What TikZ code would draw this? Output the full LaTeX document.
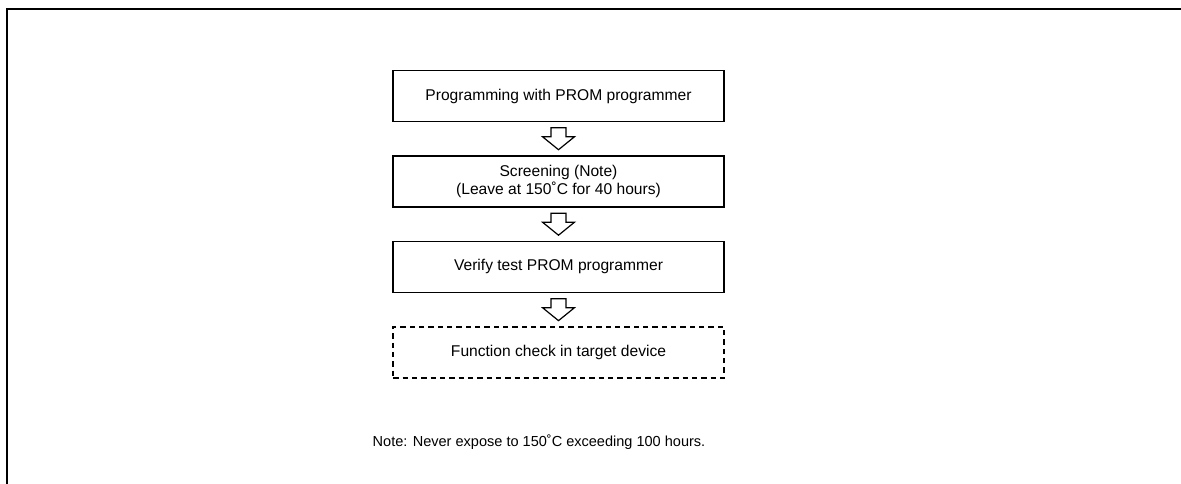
\documentclass[tikz,border=0pt]{standalone}
\usepackage{fontspec}
\setmainfont{Liberation Sans}
\usetikzlibrary{calc,positioning}
\tikzset{
  stepbox/.style={
    draw=black, line width=1.1pt, fill=white, inner sep=0pt,
    minimum width=248pt, minimum height=38.25pt, align=center,
    font=\fontsize{11.7pt}{13.6pt}\selectfont
  },
  checkbox/.style={stepbox, dash pattern=on 4pt off 3pt},
  hollowflow/.style={draw=black, line width=0.9pt, fill=white, line join=miter},
  notetext/.style={font=\fontsize{10.9pt}{13pt}\selectfont, inner sep=0pt},
  frameline/.style={line width=1.5pt, draw=black}
}
% hollow down arrow between two stacked boxes
\newcommand{\downflow}[2]{%
  \coordinate (#1-#2) at ($(#1.south)!0.5!(#2.north)$);
  \draw[hollowflow] ($(#1-#2)+(-7.5,11)$) -- ($(#1-#2)+(7.5,11)$)
    -- ($(#1-#2)+(7.5,2)$) -- ($(#1-#2)+(16,2)$) -- ($(#1-#2)+(0,-11)$)
    -- ($(#1-#2)+(-16,2)$) -- ($(#1-#2)+(-7.5,2)$) -- cycle;
}
\begin{document}
\begin{tikzpicture}[x=0.75pt,y=0.75pt,node distance=24.75pt]
  \useasboundingbox (0,0) rectangle (1181,484);
  \begin{scope}
    \clip (0,0) rectangle (1181,484);
    \draw[frameline] (6.5,-20) -- (6.5,475) -- (1200,475);
  \end{scope}
  \node[stepbox] (prog) at (558.5,388) {Programming with PROM programmer};
  \node[stepbox,below=of prog] (screen) {Screening (Note)\\(Leave at 150˚C for 40 hours)};
  \node[stepbox,below=of screen] (verify) {Verify test PROM programmer};
  \node[checkbox,below=of verify] (check) {Function check in target device};
  \downflow{prog}{screen}
  \downflow{screen}{verify}
  \downflow{verify}{check}
  \node[notetext] (note) at (539,42) {Note: Never expose to 150˚C exceeding 100 hours.};
\end{tikzpicture}
\end{document}
